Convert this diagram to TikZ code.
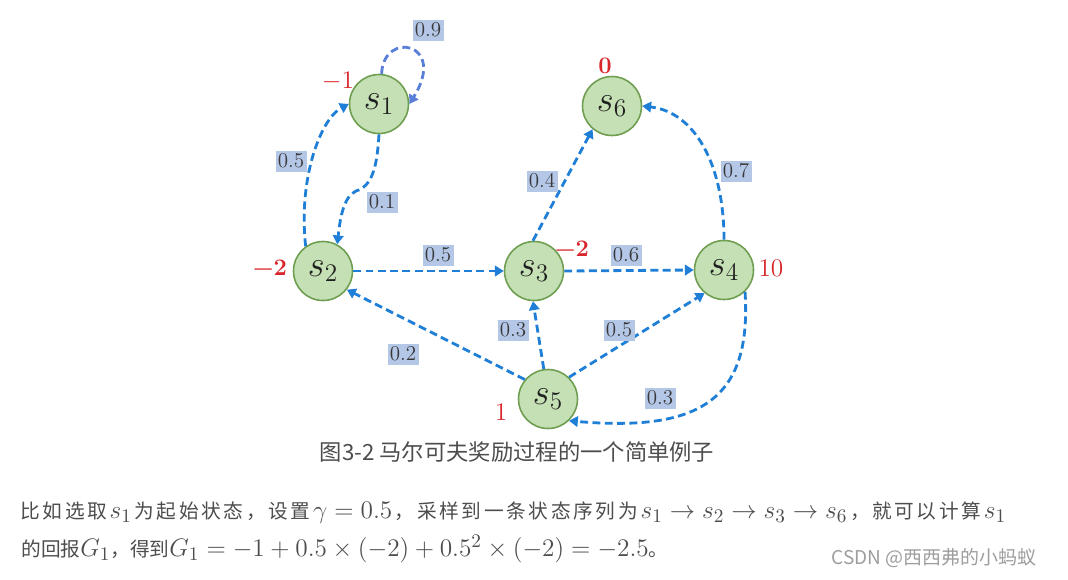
\documentclass[tikz,border=0pt]{standalone}
\usepackage{amsmath}
\usepackage{fontspec}
\newfontfamily\cjk{Noto Sans CJK SC}
\usetikzlibrary{arrows.meta}
\definecolor{edge}{HTML}{1F7FD6}
\definecolor{loopc}{HTML}{5A7FD8}
\definecolor{nfill}{HTML}{C5E0B4}
\definecolor{nborder}{HTML}{6E9E50}
\definecolor{lbl}{HTML}{B4C7E7}
\definecolor{lbltext}{HTML}{383838}
\definecolor{rew}{HTML}{D9262C}
\definecolor{txt}{HTML}{4D4D4D}
\newcommand{\km}[1]{{\fontsize{15}{16}\selectfont\thickmuskip=5mu\medmuskip=4mu$#1$}}
\makeatletter
\newcommand{\sprd}[1]{\@tfor\sprdc:=#1\do{\sprdc\hskip 0pt plus 1fil\relax}}
\makeatother
\newcommand{\gl}{\hskip 0pt plus 1fil\relax}
\begin{document}
\begin{tikzpicture}[x=0.02cm,y=-0.02cm,
 state/.style={circle,draw=nborder,fill=nfill,line width=0.9pt,minimum size=1.18cm,inner sep=0pt,font=\fontsize{20.5}{20}\selectfont,text=black!88},
 conn/.style={draw=edge,line width=1.6pt,dash pattern=on 4.5pt off 2.5pt,-{Triangle[length=5pt,width=6pt]}},
 prob/.style={fill=lbl,text=lbltext,minimum width=0.62cm,minimum height=0.42cm,inner sep=0pt,font=\fontsize{12}{12}\selectfont},
 reward/.style={text=rew,inner sep=0pt,font=\fontsize{13.5}{13.5}\selectfont},
 body/.style={anchor=west,inner sep=0pt,text=txt,font=\cjk\fontsize{11.2}{14}\selectfont},
]
\useasboundingbox (0,0) rectangle (1068,579);
\fill[white] (0,0) rectangle (1068,579);

\node[state] (s1) at (379,104) {$s_1$};
\node[state] (s6) at (612,106) {$s_6$};
\node[state] (s2) at (323,271) {$s_2$};
\node[state] (s3) at (534,271) {$s_3$};
\node[state] (s4) at (724,270) {$s_4$};
\node[state] (s5) at (548,399) {$s_5$};

\node[reward] (r1) at (338,81) {$-1$};
\node[reward] (r6) at (605,66) {\bfseries 0};
\node[reward] (r2) at (270,268) {\bfseries −2};
\node[reward] (r3) at (572,249) {\bfseries −2};
\node[reward] (r4) at (771,268) {$10$};
\node[reward] (r5) at (501,412) {$1$};

\draw[conn,draw=loopc] (s1.85) .. controls (383,30) and (448,42) .. (s1.east);
\draw[conn] (s2.125) .. controls (298,175) and (322,118) .. (s1.west);
\coordinate (k) at (356,191);
\draw[conn] (s1.south) .. controls (377,168) and (372,186) .. (k) .. controls (343,197) and (340,220) .. (s2.62);
\draw[conn] (s2.east) -- (s3.west);
\draw[conn] (s3.east) -- (s4.west);
\draw[conn] (s3.92) -- (s6.230);
\draw[conn] (s4.north) .. controls (724,165) and (695,112) .. (s6.east);
\draw[conn] (s5.98) -- (s3.268);
\draw[conn] (s5.140) -- (s2.322);
\draw[conn] (s5.46) -- (s4.230);
\draw[conn] (s4.314) .. controls (752,400) and (700,432) .. (s5.314);

\node[prob] (p1) at (428,30) {0.9};
\node[prob] (p2) at (291,161) {0.5};
\node[prob] (p3) at (382,202) {0.1};
\node[prob] (p4) at (438,255) {0.5};
\node[prob] (p5) at (626,255) {0.6};
\node[prob] (p6) at (542,181) {0.4};
\node[prob] (p7) at (736,171) {0.7};
\node[prob] (p8) at (513,330) {0.3};
\node[prob] (p9) at (619,330) {0.5};
\node[prob] (p10) at (403,354) {0.2};
\node[prob] (p11) at (660,398) {0.3};

\node[text=txt,inner sep=0pt,font=\cjk\fontsize{12.7}{14}\selectfont] (cap) at (517,452) {图3-2 马尔可夫奖励过程的一个简单例子};

\node[body] (t1) at (20,513) {\hbox to 19.72cm{\sprd{比如选取}\km{s_1}\gl\sprd{为起始状态，设置}\km{\gamma = 0.5}\gl\sprd{，采样到一条状态序列为}\km{s_1 \rightarrow s_2 \rightarrow s_3 \rightarrow s_6}\gl\sprd{，就可以计算}\km{s_1}}};
\node[body] (t2) at (21,549) {的回报\km{G_1}，得到\km{G_1 = -1 + 0.5 \times (-2) + 0.5^2 \times (-2) = -2.5}。};

\node[anchor=east,inner sep=0pt,text=black!38,font=\cjk\fontsize{10.8}{14}\selectfont] (wm) at (1037,558) {CSDN @西西弗的小蚂蚁};
\end{tikzpicture}
\end{document}
